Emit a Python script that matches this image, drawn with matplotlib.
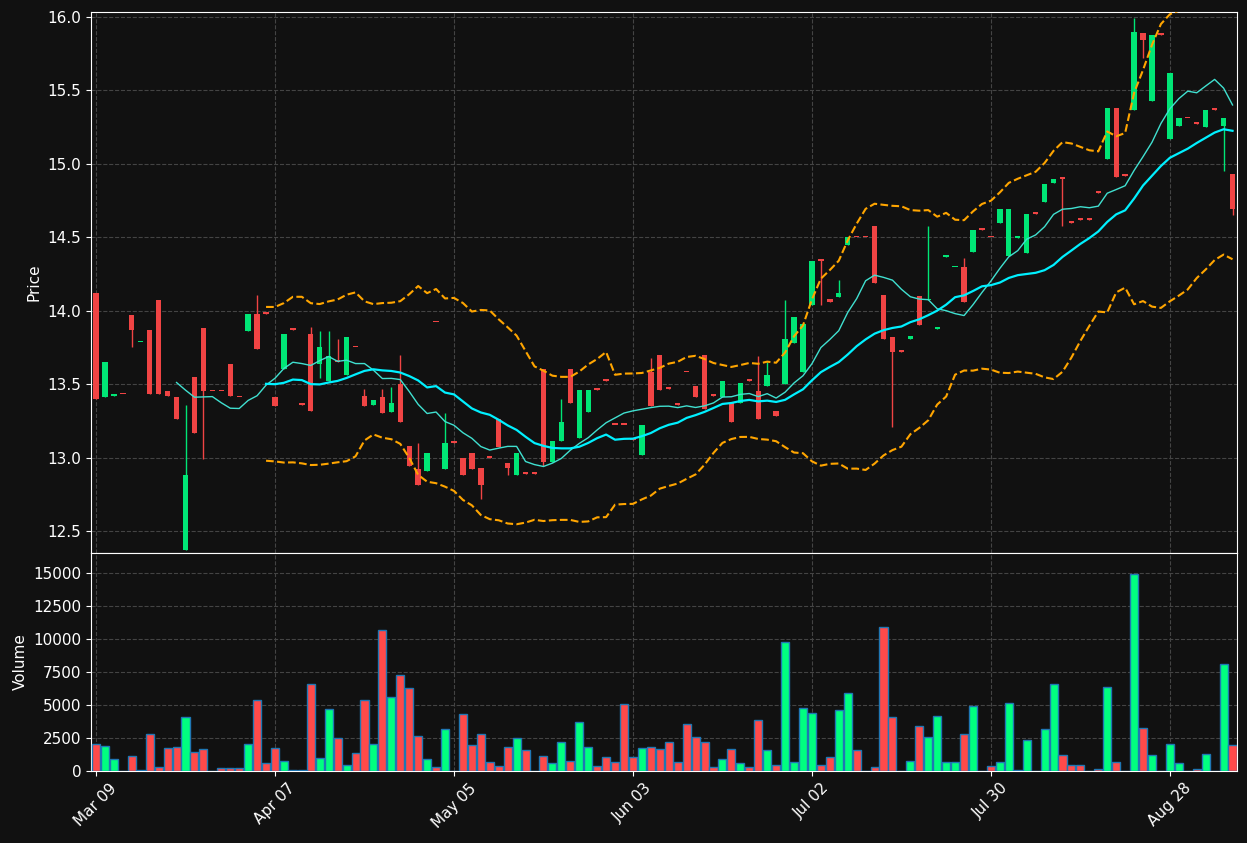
import matplotlib
matplotlib.use("Agg")
import matplotlib.pyplot as plt
import numpy as np
import pandas as pd

tick_labels = ["Mar 09", "Apr 07", "May 05", "Jun 03", "Jul 02", "Jul 30", "Aug 28"]
tick_idx = [0, 20, 40, 60, 80, 100, 120]

opens = [14.12, 13.41, 13.42, 13.435, 13.97, 13.785, 13.87, 14.07, 13.45, 13.41,
         12.37, 13.55, 13.88, 13.455, 13.455, 13.64, 13.415, 13.86, 13.98, 13.985,
         13.41, 13.60, 13.875, 13.365, 13.84, 13.64, 13.52, 13.655, 13.56, 13.755,
         13.42, 13.36, 13.41, 13.31, 13.50, 13.08, 12.92, 12.91, 13.925, 12.92,
         13.105, 13.00, 13.03, 12.93, 13.005, 13.26, 12.96, 12.88, 12.895, 12.895,
         13.60, 12.97, 13.11, 13.60, 13.13, 13.31, 13.465, 13.525, 13.225, 13.225,
         13.125, 13.02, 13.58, 13.70, 13.475, 13.365, 13.585, 13.49, 13.70, 13.425,
         13.41, 13.37, 13.37, 13.525, 13.45, 13.49, 13.32, 13.50, 13.78, 13.58,
         14.04, 14.345, 14.08, 14.09, 14.45, 14.505, 14.505, 14.58, 14.11, 13.82,
         13.725, 13.81, 14.10, 14.07, 13.875, 14.365, 14.295, 14.30, 14.40, 14.555,
         14.505, 14.60, 14.37, 14.495, 14.39, 14.665, 14.74, 14.87, 14.905, 14.605,
         14.625, 14.625, 14.805, 15.03, 15.38, 14.925, 15.37, 15.89, 15.43, 15.885,
         15.17, 15.26, 15.315, 15.275, 15.25, 15.375, 15.26, 14.93]
closes = [13.40, 13.65, 13.43, 13.43, 13.87, 13.79, 13.43, 13.43, 13.42, 13.26,
          12.88, 13.17, 13.45, 13.45, 13.45, 13.42, 13.41, 13.98, 13.74, 13.98,
          13.35, 13.84, 13.87, 13.36, 13.32, 13.75, 13.69, 13.65, 13.82, 13.75,
          13.35, 13.39, 13.30, 13.37, 13.24, 12.94, 12.81, 13.03, 13.92, 13.10,
          13.10, 12.88, 12.92, 12.81, 13.00, 13.07, 12.93, 13.03, 12.89, 12.89,
          12.97, 13.11, 13.24, 13.37, 13.46, 13.46, 13.46, 13.52, 13.22, 13.22,
          13.12, 13.22, 13.35, 13.46, 13.47, 13.36, 13.58, 13.41, 13.33, 13.42,
          13.52, 13.24, 13.51, 13.52, 13.26, 13.56, 13.28, 13.81, 13.96, 13.91,
          14.34, 14.34, 14.06, 14.12, 14.50, 14.50, 14.50, 14.19, 13.81, 13.72,
          13.72, 13.83, 13.90, 14.08, 13.88, 14.37, 14.30, 14.06, 14.55, 14.55,
          14.50, 14.69, 14.69, 14.50, 14.66, 14.66, 14.86, 14.90, 14.90, 14.60,
          14.62, 14.62, 14.80, 15.38, 14.91, 14.92, 15.90, 15.84, 15.88, 15.88,
          15.62, 15.31, 15.31, 15.27, 15.37, 15.37, 15.31, 14.69]
highs_extra = {4: 13.97, 10: 13.36, 18: 14.11, 24: 13.89, 25: 13.86, 26: 13.86, 27: 13.81,
               30: 13.47, 32: 13.47, 33: 13.48, 34: 13.70, 36: 13.10, 39: 13.30, 52: 13.40,
               62: 13.68, 74: 13.69, 75: 13.65, 77: 14.07, 83: 14.21, 93: 14.58, 97: 14.36,
               116: 15.99}
lows_extra = {4: 13.75, 12: 12.99, 25: 13.54, 43: 12.72, 46: 12.88, 50: 12.94, 81: 14.04,
              89: 13.21, 108: 14.58, 117: 15.72, 126: 14.95, 127: 14.65}
volumes = [2020, 1920, 930, 0, 1160, 50, 2780, 330, 1720, 1840,
           4070, 1410, 1690, 0, 250, 250, 250, 2020, 5350, 580,
           1720, 730, 100, 100, 6570, 1010, 4670, 2470, 430, 1340,
           5350, 2020, 10650, 5580, 7250, 6260, 2630, 880, 280, 3160,
           0, 4290, 1940, 2780, 660, 400, 1840, 2470, 1570, 0,
           1160, 580, 2170, 730, 3690, 1840, 400, 1040, 660, 5050,
           1040, 1720, 1840, 1640, 2170, 660, 3540, 2550, 2170, 280,
           880, 1640, 580, 280, 3840, 1570, 430, 9750, 660, 4750,
           4370, 430, 1040, 4600, 5880, 1570, 0, 280, 10880, 4070,
           0, 730, 3380, 2550, 4140, 660, 660, 2780, 4900, 0,
           350, 660, 5130, 50, 2320, 0, 3160, 6570, 1190, 430,
           430, 0, 130, 6340, 660, 0, 14900, 3230, 1190, 0,
           2020, 580, 0, 130, 1260, 0, 8080, 1940]

n = len(closes)
idx = np.arange(n)
o = np.array(opens); c = np.array(closes)
h = np.maximum(o, c); l = np.minimum(o, c)
for k, v in highs_extra.items(): h[k] = max(h[k], v)
for k, v in lows_extra.items(): l[k] = min(l[k], v)
up = c >= o

cs = pd.Series(c)
ma10 = cs.rolling(10).mean()
ma20 = cs.rolling(20).mean()
sd20 = cs.rolling(20).std(ddof=0)
bb_up = ma20 + 2 * sd20
bb_lo = ma20 - 2 * sd20

BG = "#111111"
RED = "#f04444"; GREEN = "#00e676"
VRED = "#ff4a4a"; VGREEN = "#00ff80"

fig = plt.figure(figsize=(12.47, 8.43), dpi=100, facecolor=BG)
ax = fig.add_axes([91/1247, 1-553/843, (1237-91)/1247, (553-12)/843])
axv = fig.add_axes([91/1247, 1-771/843, (1237-91)/1247, (771-553)/843], sharex=ax)

for a in (ax, axv):
    a.set_facecolor(BG)
    for s in a.spines.values():
        s.set_color("white")
    a.grid(True, color="#444444", linestyle="--", linewidth=0.8)
    a.set_axisbelow(True)
    a.tick_params(colors="white", labelsize=11)

colors = np.where(up, GREEN, RED)
ax.vlines(idx, l, h, colors=colors, linewidth=1, zorder=2)
body = np.maximum(np.abs(c - o), 0.012)
ax.bar(idx, body, bottom=l.clip(min=0) * 0 + np.minimum(o, c), width=0.6, color=colors, zorder=3)

ax.plot(idx, ma10, color="#40e0d0", linewidth=1, zorder=4)
ax.plot(idx, ma20, color="#00f0ff", linewidth=1.6, zorder=4)
ax.plot(idx, bb_up, color="orange", linestyle="--", linewidth=1.5, zorder=4)
ax.plot(idx, bb_lo, color="orange", linestyle="--", linewidth=1.5, zorder=4)

ax.set_ylim(12.35, 16.034)
ax.set_yticks(np.arange(12.5, 16.01, 0.5))
ax.set_ylabel("Price", color="white", fontsize=11)
plt.setp(ax.get_xticklabels(), visible=False)
ax.tick_params(axis="x", length=0)

vcolors = np.where(up, VGREEN, VRED)
axv.bar(idx, volumes, width=0.9, color=vcolors, edgecolor="#1f77b4", linewidth=1, zorder=3)
axv.set_ylim(0, 16500)
axv.set_yticks(np.arange(0, 15001, 2500))
axv.set_ylabel("Volume", color="white", fontsize=11)
axv.set_xlim(-0.56, 127.5)
axv.set_xticks(tick_idx)
axv.set_xticklabels(tick_labels, rotation=45)

fig.savefig("out.png", dpi=100, facecolor=BG)
